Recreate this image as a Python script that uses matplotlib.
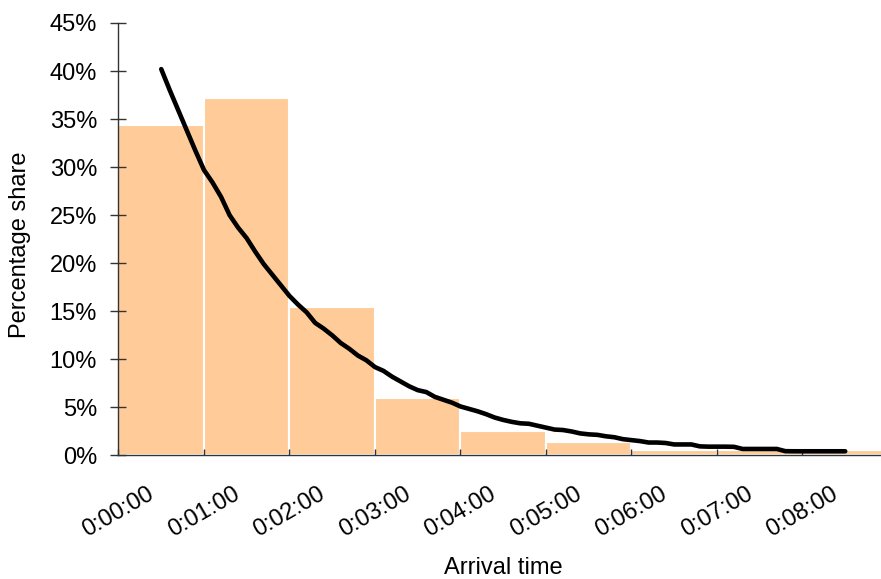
import matplotlib
matplotlib.use("Agg")
import matplotlib.pyplot as plt
from matplotlib.ticker import FuncFormatter, MultipleLocator

plt.rcParams['font.family'] = ['Liberation Sans', 'DejaVu Sans']

# Histogram: share of arrivals per one-minute bin (percent)
bin_start_min = [0, 1, 2, 3, 4, 5, 6, 7, 8]
bin_share = [34.35, 37.2, 15.5, 6.0, 2.5, 1.4, 0.57, 0.55, 0.55]

# Fitted curve: time (minutes) and share (percent)
curve_t = [0.5, 0.6, 0.7, 0.8, 0.9, 1.0, 1.1, 1.2, 1.3, 1.4,
           1.5, 1.6, 1.7, 1.8, 1.9, 2.0, 2.1, 2.2, 2.3, 2.4,
           2.5, 2.6, 2.7, 2.8, 2.9, 3.0, 3.1, 3.2, 3.3, 3.4,
           3.5, 3.6, 3.7, 3.8, 3.9, 4.0, 4.1, 4.2, 4.3, 4.4,
           4.5, 4.6, 4.7, 4.8, 4.9, 5.0, 5.1, 5.2, 5.3, 5.4,
           5.5, 5.6, 5.7, 5.8, 5.9, 6.0, 6.1, 6.2, 6.3, 6.4,
           6.5, 6.6, 6.7, 6.8, 6.9, 7.0, 7.1, 7.2, 7.3, 7.4,
           7.5, 7.6, 7.7, 7.8, 7.9, 8.0, 8.1, 8.2, 8.3, 8.4, 8.5]
curve_share = [40.2, 38.0, 35.9, 33.8, 31.7, 29.7, 28.4, 26.9, 25.0, 23.7,
               22.6, 21.2, 19.9, 18.8, 17.7, 16.6, 15.7, 14.9, 13.8, 13.2,
               12.5, 11.7, 11.1, 10.4, 9.9, 9.2, 8.8, 8.2, 7.7, 7.2,
               6.8, 6.6, 6.1, 5.8, 5.5, 5.1, 4.85, 4.6, 4.3, 3.95,
               3.7, 3.5, 3.35, 3.3, 3.1, 2.9, 2.7, 2.65, 2.5, 2.3,
               2.2, 2.15, 2.0, 1.9, 1.7, 1.6, 1.5, 1.35, 1.35, 1.3,
               1.15, 1.15, 1.15, 0.95, 0.92, 0.92, 0.92, 0.9, 0.68, 0.68,
               0.68, 0.68, 0.68, 0.45, 0.44, 0.44, 0.44, 0.44, 0.44, 0.44, 0.44]

tick_pos = [0, 1, 2, 3, 4, 5, 6, 7, 8]
tick_labels = ["0:00:00", "0:01:00", "0:02:00", "0:03:00", "0:04:00",
               "0:05:00", "0:06:00", "0:07:00", "0:08:00"]

FS = 17

fig = plt.figure(figsize=(8.81, 5.79), dpi=100)
ax = fig.add_axes([0.1345, 0.2133, 0.8734, 0.747])

ax.bar(bin_start_min, bin_share, width=1.0, align='edge',
       color='#FFCC99', edgecolor='white', linewidth=1.5, zorder=1)
ax.plot(curve_t, curve_share, color='black', linewidth=3.3,
        solid_capstyle='round', solid_joinstyle='round', zorder=3)

ax.set_xlim(0, 9)
ax.set_ylim(0, 45)
ax.yaxis.set_major_locator(MultipleLocator(5))
ax.yaxis.set_major_formatter(FuncFormatter(lambda v, p: f"{v:.0f}%"))

ax.set_xticks(tick_pos)
ax.set_xticklabels(tick_labels, rotation=30, ha='center', va='top')

for s in ('top', 'right'):
    ax.spines[s].set_visible(False)
for s in ('left', 'bottom'):
    ax.spines[s].set_color('#333333')
    ax.spines[s].set_linewidth(1.0)
    ax.spines[s].set_zorder(4)

ax.tick_params(axis='y', direction='inout', length=11, width=1,
               color='#333333', pad=10, labelsize=FS)
ax.tick_params(axis='x', direction='in', length=4, width=1,
               color='#333333', pad=20, labelsize=FS)

ax.set_xlabel("Arrival time", fontsize=FS)
ax.set_ylabel("Percentage share", fontsize=FS)
ax.xaxis.set_label_coords(0.5, -0.235)
ax.yaxis.set_label_coords(-0.1137, 0.487)

fig.savefig("out.png", dpi=100)
